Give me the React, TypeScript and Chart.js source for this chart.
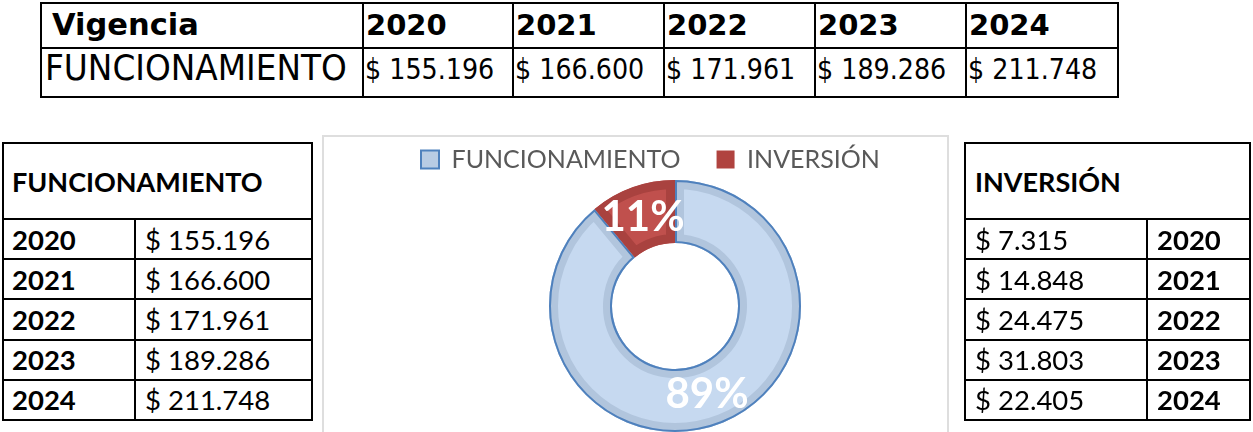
import React, { useEffect, useRef } from 'react';
import { Chart, registerables } from 'chart.js';

Chart.register(...registerables);

// ---------- data ----------
const years = ['2020', '2021', '2022', '2023', '2024'];
const funcionamientoValues = [155196, 166600, 171961, 189286, 211748];
const inversionValues = [7315, 14848, 24475, 31803, 22405];
const shareLabels = ['FUNCIONAMIENTO', 'INVERSIÓN'];
const shareValues = [89, 11];
const topHeaderLabel = 'Vigencia';
const topRowLabel = 'FUNCIONAMIENTO';
const leftTitle = 'FUNCIONAMIENTO';
const rightTitle = 'INVERSIÓN';

// ---------- styles ----------
const sliceFill = ['#C6D9F0', '#C0504D'];
const sliceBand = ['#B1C5DD', '#A9423F'];
const sliceBorder = ['#4F81BD', null];
const legendFill = ['#B9CCE4', '#B0433F'];
const legendStroke = ['#4F81BD', '#B0433F'];

const fmt = (n: number) => '$ ' + String(n).replace(/\B(?=(\d{3})+(?!\d))/g, '.');

const ringPlugin = {
  id: 'ringStyle',
  afterDatasetsDraw(chart: any) {
    const ctx = chart.ctx as CanvasRenderingContext2D;
    const meta = chart.getDatasetMeta(0);
    const data = chart.data.datasets[0].data as number[];
    const total = data.reduce((a, b) => a + b, 0);
    meta.data.forEach((el: any, i: number) => {
      const { x, y, startAngle, endAngle, innerRadius, outerRadius } = el.getProps(
        ['x', 'y', 'startAngle', 'endAngle', 'innerRadius', 'outerRadius'],
        true
      );
      ctx.save();
      ctx.beginPath();
      ctx.arc(x, y, outerRadius, startAngle, endAngle);
      ctx.arc(x, y, innerRadius, endAngle, startAngle, true);
      ctx.closePath();
      ctx.clip();
      ctx.lineJoin = 'miter';
      ctx.lineWidth = 18;
      ctx.strokeStyle = sliceBand[i];
      ctx.stroke();
      if (sliceBorder[i]) {
        ctx.lineWidth = 4;
        ctx.strokeStyle = sliceBorder[i] as string;
        ctx.stroke();
      }
      ctx.restore();
    });
    meta.data.forEach((el: any, i: number) => {
      const p = el.getCenterPoint();
      ctx.save();
      ctx.font = 'bold 42px Lato';
      ctx.fillStyle = '#FFFFFF';
      ctx.textAlign = 'center';
      ctx.textBaseline = 'middle';
      ctx.fillText(Math.round((data[i] / total) * 100) + '%', p.x, p.y);
      ctx.restore();
    });
  },
};

// ---------- helpers ----------
const HL = ({ x1, x2, y }: any) => (
  <div style={{ position: 'absolute', left: x1 - 1, top: y - 1, width: x2 - x1 + 2, height: 2, background: '#000' }} />
);
const VL = ({ x, y1, y2 }: any) => (
  <div style={{ position: 'absolute', left: x - 1, top: y1 - 1, width: 2, height: y2 - y1 + 2, background: '#000' }} />
);

const T = ({ x, baseline, size, family, bold, text, sy = 1, k }: any) => {
  const top = baseline - size * k;
  return (
    <div
      style={{
        position: 'absolute',
        left: x,
        top,
        fontFamily: family,
        fontWeight: bold ? 700 : 400,
        fontSize: size,
        lineHeight: size + 'px',
        whiteSpace: 'nowrap',
        color: '#000',
        transform: sy !== 1 ? `scaleY(${sy})` : undefined,
        transformOrigin: `0 ${size * k}px`,
      }}
    >
      {text}
    </div>
  );
};

const DV = "'DejaVu Sans', Verdana, sans-serif";
const KDV = 0.846;
const LT = "Lato, 'Open Sans', sans-serif";
const KLT = 0.887;

export default function App() {
  const ref = useRef<HTMLCanvasElement>(null);

  useEffect(() => {
    document.body.style.margin = '0';
    const chart = new Chart(ref.current as HTMLCanvasElement, {
      type: 'doughnut',
      data: {
        labels: shareLabels,
        datasets: [
          {
            data: shareValues,
            backgroundColor: sliceFill,
            borderWidth: 0,
            radius: 126,
            cutout: '50%',
          } as any,
        ],
      },
      options: {
        responsive: false,
        animation: false,
        layout: { padding: { left: 61, right: 1, top: 0, bottom: 2 } },
        plugins: {
          legend: {
            position: 'top',
            align: 'start',
            labels: {
              boxWidth: 18,
              boxHeight: 18,
              padding: 36,
              color: '#595959',
              font: { family: 'Lato', size: 25 },
              generateLabels: () =>
                shareLabels.map((t, i) => ({
                  text: t,
                  fillStyle: legendFill[i],
                  strokeStyle: legendStroke[i],
                  lineWidth: i === 0 ? 2 : 0,
                  fontColor: '#595959',
                  hidden: false,
                  index: i,
                  datasetIndex: 0,
                })),
            },
          },
          tooltip: { enabled: false },
        },
      } as any,
      plugins: [ringPlugin],
    });
    return () => chart.destroy();
  }, []);

  // top table geometry
  const tcols = [41, 363, 513, 664, 815, 966, 1118];
  const trows = [3, 48, 97];
  // side tables geometry
  const sTop = 143;
  const sHead = 219;
  const sRow = 40.2;
  const sBottom = sHead + sRow * 5;
  const L = { x1: 3, x2: 312, split: 135 };
  const R = { x1: 965, x2: 1250, split: 1147 };

  return (
    <div style={{ position: 'fixed', left: 0, top: 0, width: 1253, height: 432, overflow: 'hidden', background: '#fff' }}>
      {/* chart frame */}
      <div
        style={{
          position: 'absolute',
          left: 322,
          top: 135,
          width: 627,
          height: 320,
          border: '2px solid #DEDEDE',
          boxSizing: 'border-box',
        }}
      />
      <canvas
        ref={ref}
        width={642}
        height={321}
        style={{ position: 'absolute', left: 324, top: 111, width: 642, height: 321 }}
      />

      {/* top table */}
      {trows.map((y, i) => (
        <HL key={'th' + i} x1={tcols[0]} x2={tcols[tcols.length - 1]} y={y} />
      ))}
      {tcols.map((x, i) => (
        <VL key={'tv' + i} x={x} y1={trows[0]} y2={trows[2]} />
      ))}
      <T x={52} baseline={36} size={30.5} family={DV} bold text={topHeaderLabel} k={KDV} />
      {years.map((y, i) => (
        <T key={'ty' + i} x={tcols[i + 1] + 3} baseline={36} size={29} family={DV} bold text={y} k={KDV} />
      ))}
      <T x={45} baseline={81} size={32.8} family={DV} text={topRowLabel} sy={1.06} k={KDV} />
      {funcionamientoValues.map((v, i) => (
        <T key={'tv2' + i} x={tcols[i + 1] + 2} baseline={79} size={25.4} family={DV} text={fmt(v)} sy={1.1} k={KDV} />
      ))}

      {/* left table */}
      <HL x1={L.x1} x2={L.x2} y={sTop} />
      {[0, 1, 2, 3, 4, 5].map((r) => (
        <HL key={'lh' + r} x1={L.x1} x2={L.x2} y={sHead + sRow * r} />
      ))}
      <VL x={L.x1} y1={sTop} y2={sBottom} />
      <VL x={L.x2} y1={sTop} y2={sBottom} />
      <VL x={L.split} y1={sHead} y2={sBottom} />
      <T x={12} baseline={192} size={27} family={LT} bold text={leftTitle} k={KLT} />
      {years.map((y, i) => (
        <T key={'ly' + i} x={12} baseline={sHead + sRow * i + 31} size={27.5} family={LT} bold text={y} k={KLT} />
      ))}
      {funcionamientoValues.map((v, i) => (
        <T key={'lv' + i} x={145} baseline={sHead + sRow * i + 31} size={27.5} family={LT} text={fmt(v)} k={KLT} />
      ))}

      {/* right table */}
      <HL x1={R.x1} x2={R.x2} y={sTop} />
      {[0, 1, 2, 3, 4, 5].map((r) => (
        <HL key={'rh' + r} x1={R.x1} x2={R.x2} y={sHead + sRow * r} />
      ))}
      <VL x={R.x1} y1={sTop} y2={sBottom} />
      <VL x={R.x2} y1={sTop} y2={sBottom} />
      <VL x={R.split} y1={sHead} y2={sBottom} />
      <T x={975} baseline={192} size={27} family={LT} bold text={rightTitle} k={KLT} />
      {inversionValues.map((v, i) => (
        <T key={'rv' + i} x={975} baseline={sHead + sRow * i + 31} size={27.5} family={LT} text={fmt(v)} k={KLT} />
      ))}
      {years.map((y, i) => (
        <T key={'ry' + i} x={1157} baseline={sHead + sRow * i + 31} size={27.5} family={LT} bold text={y} k={KLT} />
      ))}
    </div>
  );
}
